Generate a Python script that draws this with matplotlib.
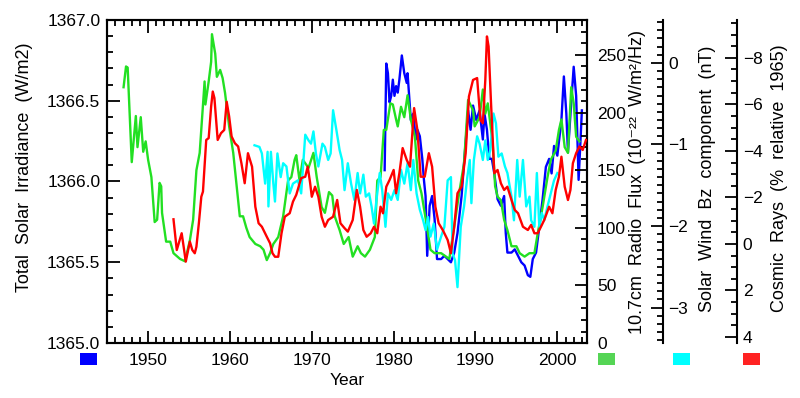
import matplotlib.pyplot as plt
from matplotlib.patches import Rectangle
from matplotlib.ticker import MultipleLocator, FormatStrFormatter

# Total solar irradiance (W/m2) - blue, left axis
tsi_year = [1978.9, 1979.1, 1979.3, 1979.5, 1979.7, 1979.9, 1980.1, 1980.3, 1980.5, 1980.7,
            1981.0, 1981.3, 1981.6, 1981.7, 1982.1, 1982.4, 1982.7, 1982.9, 1983.2, 1983.5,
            1983.7, 1983.9, 1984.1, 1984.4, 1984.7, 1985.0, 1985.3, 1985.8, 1986.2, 1986.6,
            1987.0, 1987.4, 1987.8, 1988.3, 1988.7, 1989.1, 1989.4, 1989.7, 1990.1, 1990.5,
            1990.9, 1991.1, 1991.4, 1991.7, 1992.0, 1992.3, 1992.7, 1993.1, 1993.5, 1993.7,
            1993.9, 1994.4, 1994.8, 1995.2, 1995.6, 1996.0, 1996.4, 1996.7, 1997.0, 1997.4,
            1997.8, 1998.2, 1998.6, 1999.0, 1999.3, 1999.6, 2000.0, 2000.5, 2000.8, 2001.1,
            2001.3, 2001.7, 2002.0, 2002.3, 2002.6, 2002.8, 2003.0]
tsi = [1366.07, 1366.73, 1366.67, 1366.49, 1366.53, 1366.63, 1366.53, 1366.59, 1366.55, 1366.63,
       1366.78, 1366.67, 1366.61, 1366.67, 1366.38, 1366.42, 1366.26, 1366.32, 1366.28, 1366.14,
       1366.01, 1365.91, 1365.54, 1365.85, 1365.91, 1365.77, 1365.52, 1365.52, 1365.54, 1365.52,
       1365.50, 1365.56, 1365.68, 1365.91, 1366.18, 1366.44, 1366.32, 1366.47, 1366.38, 1366.44,
       1366.26, 1366.42, 1366.32, 1366.14, 1366.14, 1366.05, 1365.89, 1365.85, 1365.91, 1365.68,
       1365.56, 1365.56, 1365.58, 1365.54, 1365.50, 1365.48, 1365.42, 1365.41, 1365.52, 1365.56,
       1365.72, 1365.89, 1366.09, 1366.14, 1366.05, 1366.22, 1366.16, 1366.38, 1366.65, 1366.42,
       1366.18, 1366.49, 1366.71, 1366.53, 1366.01, 1366.22, 1366.44]

# 10.7 cm radio flux - green
flux_year = [1947.0, 1947.3, 1947.5, 1948.0, 1948.5, 1948.7, 1949.1, 1949.4, 1949.7, 1950.0,
             1950.4, 1950.8, 1951.1, 1951.4, 1951.6, 1951.7, 1952.2, 1952.7, 1953.1, 1953.9,
             1954.5, 1955.1, 1955.5, 1955.9, 1956.3, 1956.9, 1957.0, 1957.4, 1957.7, 1957.8,
             1958.2, 1958.4, 1958.8, 1959.1, 1959.4, 1959.9, 1960.4, 1961.2, 1961.6, 1962.0,
             1962.4, 1963.1, 1963.7, 1964.1, 1964.5, 1964.9, 1965.3, 1965.9, 1966.5, 1967.1,
             1967.5, 1967.9, 1968.1, 1968.5, 1968.9, 1969.6, 1970.2, 1970.6, 1971.2, 1971.6,
             1972.1, 1972.5, 1972.8, 1973.4, 1973.9, 1974.5, 1975.0, 1975.6, 1976.0, 1976.5,
             1977.1, 1977.7, 1978.0, 1978.4, 1978.8, 1979.1, 1979.6, 1979.9, 1980.3, 1980.5,
             1980.9, 1981.3, 1981.7, 1982.1, 1982.6, 1983.0, 1983.4, 1984.0, 1984.5, 1985.0,
             1985.8, 1986.4, 1986.8, 1987.4, 1988.0, 1988.6, 1989.1, 1989.7, 1989.9, 1990.5,
             1990.9, 1991.2, 1991.5, 1991.8, 1992.1, 1992.4, 1992.7, 1993.1, 1993.5, 1993.9,
             1994.4, 1995.0, 1995.4, 1996.0, 1996.6, 1997.2, 1997.6, 1998.2, 1998.8, 1999.2,
             1999.8, 2000.2, 2000.5, 2000.9, 2001.3, 2001.7, 2002.0, 2002.3, 2002.7]
flux = [222, 240, 239, 157, 197, 170, 196, 166, 175, 159,
        144, 105, 107, 139, 136, 113, 88, 88, 78, 73,
        71, 89, 107, 150, 165, 227, 207, 227, 244, 268,
        251, 231, 237, 230, 217, 188, 165, 110, 110, 100,
        92, 86, 84, 81, 72, 78, 86, 92, 110, 141,
        144, 159, 163, 141, 159, 152, 165, 144, 118, 113,
        131, 128, 110, 98, 86, 92, 75, 84, 78, 75,
        81, 92, 141, 144, 185, 185, 208, 207, 194, 188,
        205, 196, 215, 194, 179, 141, 130, 104, 81, 78,
        78, 75, 73, 101, 130, 156, 211, 202, 188, 196,
        220, 199, 208, 191, 173, 136, 127, 124, 107, 98,
        84, 84, 78, 75, 78, 78, 95, 118, 144, 159,
        167, 185, 194, 170, 165, 222, 208, 179, 175]

# Solar wind Bz component (nT) - cyan
bz_year = [1963.0, 1963.6, 1963.9, 1964.3, 1964.6, 1964.7, 1965.0, 1965.3, 1965.5, 1965.8,
           1966.2, 1966.5, 1966.9, 1967.3, 1967.7, 1968.3, 1968.7, 1969.2, 1969.6, 1969.9,
           1970.2, 1970.5, 1970.8, 1971.3, 1971.6, 1972.0, 1972.3, 1972.6, 1973.0, 1973.4,
           1973.7, 1974.0, 1974.4, 1974.8, 1975.2, 1975.6, 1975.9, 1976.3, 1976.6, 1977.0,
           1977.3, 1977.6, 1977.9, 1978.3, 1978.6, 1979.0, 1979.3, 1979.7, 1980.1, 1980.5,
           1980.9, 1981.3, 1981.7, 1982.1, 1982.4, 1982.8, 1983.2, 1983.6, 1983.9, 1984.2,
           1984.5, 1984.9, 1985.3, 1985.8, 1986.2, 1986.6, 1987.0, 1987.2, 1987.5, 1987.8,
           1988.2, 1988.6, 1989.0, 1989.3, 1989.5, 1989.8, 1990.2, 1990.5, 1990.9, 1991.2,
           1991.5, 1991.8, 1992.2, 1992.5, 1992.8, 1993.2, 1993.6, 1993.9, 1994.4, 1994.7,
           1995.1, 1995.4, 1995.8, 1996.2, 1996.6, 1996.8, 1997.2, 1997.5, 1997.8, 1998.1,
           1998.4, 1998.8, 1999.2, 1999.6, 2000.0]
bz = [-1.01, -1.03, -1.11, -1.48, -1.09, -1.76, -1.09, -1.48, -1.70, -1.11,
      -1.40, -1.23, -1.27, -1.60, -1.48, -1.44, -1.60, -0.88, -0.95, -0.99,
      -0.84, -1.11, -1.27, -0.99, -1.03, -1.19, -1.11, -0.58, -0.82, -1.07,
      -1.19, -1.56, -1.23, -1.48, -1.68, -1.35, -1.60, -1.37, -1.64, -1.60,
      -1.76, -1.97, -1.68, -1.35, -1.56, -2.01, -1.60, -1.68, -1.56, -1.68,
      -1.31, -1.48, -1.23, -1.56, -1.19, -1.60, -1.80, -1.93, -2.05, -1.89,
      -2.13, -1.97, -2.29, -2.13, -2.01, -1.44, -1.40, -2.34, -2.42, -2.75,
      -2.01, -1.76, -1.40, -1.19, -1.72, -1.19, -0.90, -0.99, -1.19, -0.95,
      -1.19, -1.07, -0.62, -0.74, -1.15, -1.11, -1.27, -1.35, -1.64, -1.93,
      -1.19, -1.64, -1.19, -1.76, -1.64, -1.93, -2.01, -1.35, -2.01, -1.84,
      -1.93, -1.76, -1.60, -1.44, -1.35]

# Cosmic rays (% relative 1965) - red, inverted axis
cr_year = [1953.1, 1953.5, 1954.1, 1954.4, 1954.6, 1955.1, 1955.4, 1955.7, 1955.9, 1956.2,
           1956.5, 1956.7, 1957.1, 1957.4, 1957.7, 1957.9, 1958.1, 1958.5, 1958.9, 1959.3,
           1959.6, 1959.9, 1960.2, 1960.6, 1961.0, 1961.4, 1961.8, 1962.2, 1962.7, 1963.1,
           1963.5, 1963.9, 1964.5, 1964.9, 1965.2, 1965.5, 1965.9, 1966.3, 1966.7, 1967.3,
           1967.7, 1968.1, 1968.7, 1969.2, 1969.5, 1969.8, 1970.0, 1970.4, 1970.8, 1971.2,
           1971.6, 1972.0, 1972.6, 1973.1, 1973.5, 1974.0, 1974.4, 1975.0, 1975.5, 1975.9,
           1976.3, 1976.7, 1977.2, 1977.6, 1978.0, 1978.4, 1978.7, 1979.1, 1979.5, 1980.0,
           1980.3, 1980.7, 1981.1, 1981.6, 1982.0, 1982.5, 1982.9, 1983.3, 1983.8, 1984.3,
           1984.7, 1985.1, 1985.5, 1986.0, 1986.6, 1987.0, 1987.4, 1987.8, 1988.3, 1988.8,
           1989.2, 1989.7, 1990.2, 1990.6, 1990.9, 1991.2, 1991.4, 1991.6, 1991.9, 1992.3,
           1992.7, 1993.1, 1993.5, 1993.9, 1994.4, 1994.8, 1995.2, 1995.8, 1996.4, 1996.8,
           1997.2, 1997.6, 1998.0, 1998.4, 1999.0, 1999.4, 1999.8, 2000.2, 2000.5, 2000.9,
           2001.3, 2001.6, 2001.9, 2002.3, 2002.7, 2003.1, 2003.5]
cr = [-1.06, 0.26, -0.46, 0.26, 0.76, -0.10, 0.26, 0.40, 0.12, -0.89,
      -2.03, -2.25, -4.47, -4.55, -5.91, -6.55, -6.27, -4.47, -4.76, -4.90,
      -6.11, -5.48, -4.62, -4.33, -4.19, -3.47, -2.61, -3.90, -3.32, -1.60,
      -0.89, -0.74, -0.31, -0.03, 0.40, 0.55, 0.55, -0.46, -1.17, -1.32,
      -1.82, -2.11, -2.83, -2.89, -3.32, -2.61, -2.03, -2.46, -2.03, -1.17,
      -0.74, -1.03, -1.17, -1.89, -0.89, -0.68, -0.53, -1.03, -2.32, -1.60,
      -0.60, -0.31, -0.46, -0.74, -0.46, -1.60, -1.32, -2.46, -2.75, -3.18,
      -2.18, -3.04, -4.12, -3.61, -3.32, -5.84, -4.90, -2.89, -2.89, -3.90,
      -3.32, -1.60, -0.89, -0.60, -0.17, 0.40, -0.74, -2.18, -2.46, -3.90,
      -6.34, -7.05, -7.13, -5.33, -5.19, -7.05, -8.92, -8.49, -6.05, -3.04,
      -3.18, -2.61, -2.32, -2.46, -1.89, -1.46, -1.32, -0.74, -0.60, -0.82,
      -0.46, -0.46, -0.74, -1.03, -1.60, -1.32, -2.32, -2.89, -3.75, -2.46,
      -1.89, -2.32, -3.47, -3.90, -4.19, -4.04, -4.47]

BLUE = '#0000ff'
GREEN = '#22e022'
CYAN = '#00ffff'
RED = '#ff0000'
LW = 1.7

plt.rcParams['font.family'] = ['Liberation Sans', 'DejaVu Sans']
plt.rcParams['font.size'] = 12.5
plt.rcParams['axes.linewidth'] = 1.5

fig = plt.figure(figsize=(8, 3.98), dpi=100)
ax = fig.add_axes([0.134, 0.138, 0.600, 0.812])
ax_f = ax.twinx()
ax_b = ax.twinx()
ax_c = ax.twinx()

ax.plot(tsi_year, tsi, color=BLUE, lw=LW)
ax_f.plot(flux_year, flux, color=GREEN, lw=LW)
ax_b.plot(bz_year, bz, color=CYAN, lw=LW)
ax_c.plot(cr_year, cr, color=RED, lw=LW)

# main axis
ax.set_xlim(1945.0, 2003.65)
ax.set_ylim(1365.0, 1367.0)
ax.xaxis.set_major_locator(MultipleLocator(10))
ax.xaxis.set_minor_locator(MultipleLocator(1))
ax.yaxis.set_major_locator(MultipleLocator(0.5))
ax.yaxis.set_minor_locator(MultipleLocator(0.1))
ax.yaxis.set_major_formatter(FormatStrFormatter('%.1f'))
ax.tick_params(which='both', direction='in', top=True, right=False, width=1.3)
ax.tick_params(which='major', length=9)
ax.tick_params(which='minor', length=4.5)
ax.tick_params(axis='x', pad=7)
ax.tick_params(axis='y', pad=5)
ax.set_xlabel('Year', labelpad=4)

# radio flux axis
ax_f.set_ylim(0, 280.4)
ax_f.yaxis.set_major_locator(MultipleLocator(50))
ax_f.yaxis.set_minor_locator(MultipleLocator(10))

# Bz axis
ax_b.set_ylim(-3.436, 0.528)
ax_b.yaxis.set_major_locator(MultipleLocator(1))
ax_b.yaxis.set_minor_locator(MultipleLocator(0.1))
ax_b.spines['right'].set_position(('axes', 1.158))

# cosmic ray axis (inverted)
ax_c.set_ylim(4.26, -9.63)
ax_c.yaxis.set_major_locator(MultipleLocator(2))
ax_c.yaxis.set_minor_locator(MultipleLocator(0.5))
ax_c.spines['right'].set_position(('axes', 1.3125))

for a, pad in ((ax_f, 7), (ax_b, 4), (ax_c, 4)):
    a.set_xlim(ax.get_xlim())
    a.tick_params(which='both', direction='in', width=1.3, pad=pad)
    a.tick_params(which='major', length=9)
    a.tick_params(which='minor', length=4.5)
for a in (ax_b, ax_c):
    for s in ('left', 'top', 'bottom'):
        a.spines[s].set_visible(False)

# axis titles
fig.text(25 / 800, 1 - 167 / 398, 'Total  Solar  Irradiance  (W/m2)',
         rotation=90, ha='center', va='center', fontsize=13)
fig.text(638 / 800, 1 - 182 / 398, '10.7cm  Radio  Flux  (10\u207b\u00b2\u00b2  W/m\u00b2/Hz)',
         rotation=90, ha='center', va='center', fontsize=13)
fig.text(707 / 800, 1 - 179 / 398, 'Solar  Wind  Bz  component  (nT)',
         rotation=90, ha='center', va='center', fontsize=13)
fig.text(779 / 800, 1 - 178 / 398, 'Cosmic  Rays  (%  relative  1965)',
         rotation=90, ha='center', va='center', fontsize=13)

# colour keys under each axis
for x0, c in ((80, BLUE), (598, '#55d555'), (673, CYAN), (743, '#ff2222')):
    fig.add_artist(Rectangle((x0 / 800, 1 - 365 / 398), 17 / 800, 12 / 398,
                             transform=fig.transFigure, color=c, lw=0))

fig.savefig('out.png', dpi=100)
